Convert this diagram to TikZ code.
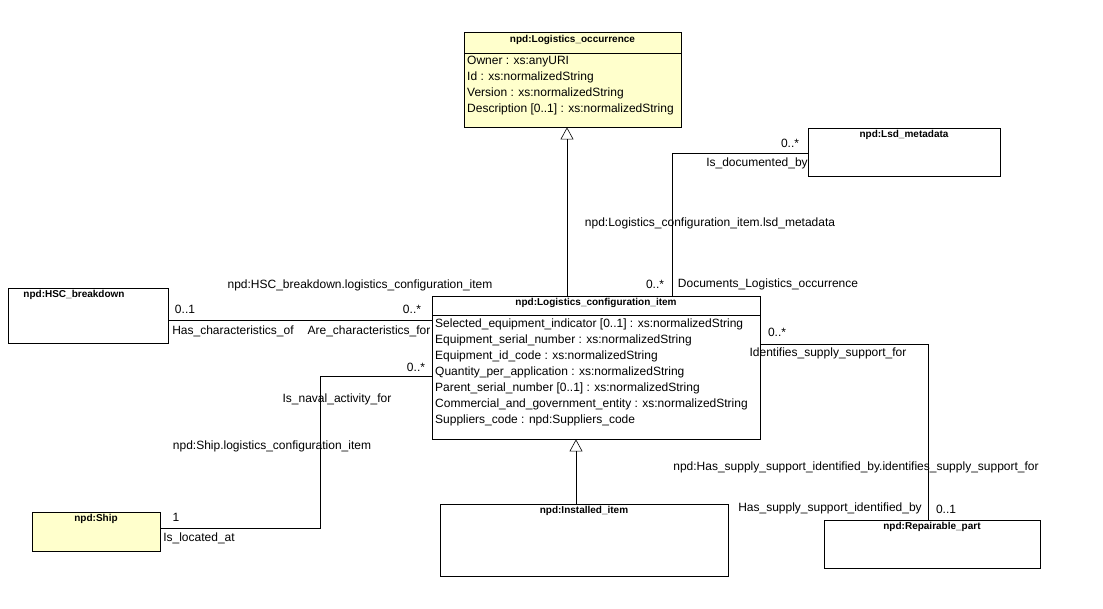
\documentclass[tikz,border=0pt]{standalone}
\usepackage{fontspec}
\setmainfont{Liberation Sans}
\usetikzlibrary{arrows.meta}

\definecolor{umlyellow}{RGB}{255,255,204}
\tikzset{
	cls/.style={draw=black,anchor=north west,inner sep=0pt},
	ttl/.style={anchor=north,font=\bfseries,inner sep=1pt},
	attr/.style={anchor=north west,align=left,inner sep=1pt},
	lbl/.style={inner sep=1pt},
	assoc/.style={draw=black,line width=0.6pt},
	gen/.style={draw=black,line width=0.6pt,-{Triangle[open,length=12pt,width=13pt]}}
}

\begin{document}
\begin{tikzpicture}[x=1pt,y=-1pt,font=\fontsize{12}{16}\selectfont]
	\useasboundingbox[fill=white] (0,0) rectangle (1103,608);
	% classes
	\node[cls,fill=umlyellow,minimum width=217,minimum height=95] (occ) at (464,32) {};
	\node[ttl] at (572.5,34) {npd:Logistics\_occurrence};
	\draw (464,53) -- (681,53);
	\node[attr] at (466,55) {Owner : xs:anyURI\\Id : xs:normalizedString\\Version : xs:normalizedString\\Description [0..1] : xs:normalizedString};

	\node[cls,minimum width=192,minimum height=48] (lsd) at (808,128) {};
	\node[ttl] at (904,129) {npd:Lsd\_metadata};

	\node[cls,minimum width=160,minimum height=55] (hsc) at (8,288) {};
	\node[ttl] at (74,289) {npd:HSC\_breakdown};

	\node[cls,minimum width=328,minimum height=143] (lci) at (432,296) {};
	\node[ttl] at (596,297) {npd:Logistics\_configuration\_item};
	\draw (432,315) -- (760,315);
	\node[attr] at (434,318) {Selected\_equipment\_indicator [0..1] : xs:normalizedString\\Equipment\_serial\_number : xs:normalizedString\\Equipment\_id\_code : xs:normalizedString\\Quantity\_per\_application : xs:normalizedString\\Parent\_serial\_number [0..1] : xs:normalizedString\\Commercial\_and\_government\_entity : xs:normalizedString\\Suppliers\_code : npd:Suppliers\_code};

	\node[cls,fill=umlyellow,minimum width=128,minimum height=39] (ship) at (32,512) {};
	\node[ttl] at (96,513) {npd:Ship};

	\node[cls,minimum width=288,minimum height=72] (inst) at (440,504) {};
	\node[ttl] at (584,505) {npd:Installed\_item};

	\node[cls,minimum width=216,minimum height=48] (rep) at (824,520) {};
	\node[ttl] at (932,521) {npd:Repairable\_part};

	% generalizations
	\draw[gen] (lci.north west) ++(135,0) coordinate (g1) -- (g1 |- occ.south);
	\draw[gen] (inst.north west) ++(136,0) coordinate (g2) -- (g2 |- lci.south);

	% associations
	\coordinate (a1) at (672,296);
	\draw[assoc] (a1) |- (lsd.west |- 0,153);
	\draw[assoc] (hsc.east |- 0,320) -- (lci.west |- 0,320);
	\draw[assoc] (lci.west |- 0,376) -| (320,528) -- (ship.east |- 0,528);
	\draw[assoc] (lci.east |- 0,344) -| (rep.north west -| 928,0);

	% labels
	\node[lbl] at (790,143) {0..*};
	\node[lbl] at (757,163) {Is\_documented\_by};
	\node[lbl] at (710,223) {npd:Logistics\_configuration\_item.lsd\_metadata};
	\node[lbl] at (655,284) {0..*};
	\node[lbl] at (768,284) {Documents\_Logistics\_occurrence};

	\node[lbl] at (360,285) {npd:HSC\_breakdown.logistics\_configuration\_item};
	\node[lbl] at (185,309) {0..1};
	\node[lbl] at (412,309) {0..*};
	\node[lbl] at (233,331) {Has\_characteristics\_of};
	\node[lbl] at (369,331) {Are\_characteristics\_for};

	\node[lbl] at (416,367) {0..*};
	\node[lbl] at (337,399) {Is\_naval\_activity\_for};
	\node[lbl] at (272,446) {npd:Ship.logistics\_configuration\_item};
	\node[lbl] at (176,517) {1};
	\node[lbl] at (199,538) {Is\_located\_at};

	\node[lbl] at (777,332) {0..*};
	\node[lbl] at (828,353) {Identifies\_supply\_support\_for};
	\node[lbl] at (856,467) {npd:Has\_supply\_support\_identified\_by.identifies\_supply\_support\_for};
	\node[lbl] at (830,508) {Has\_supply\_support\_identified\_by};
	\node[lbl] at (946,509) {0..1};
\end{tikzpicture}
\end{document}
